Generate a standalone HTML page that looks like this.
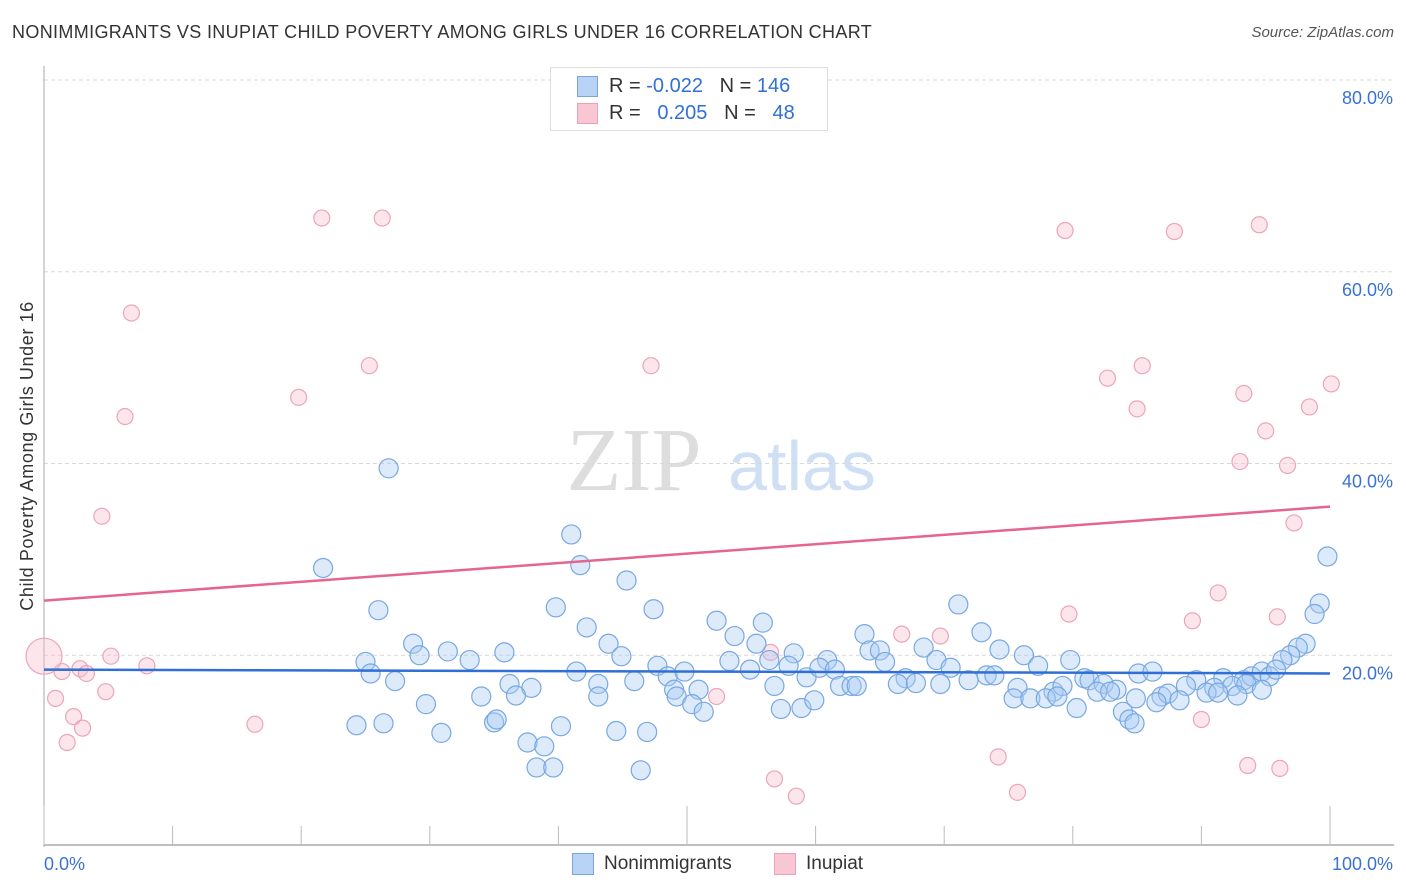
<!DOCTYPE html>
<html><head><meta charset="utf-8">
<style>
body{margin:0;background:#fff;font-family:"Liberation Sans",sans-serif;}
#wrap{position:relative;width:1406px;height:892px;overflow:hidden;}
.t{position:absolute;white-space:nowrap;}
</style></head><body>
<div id="wrap">
<div class="t" style="left:12px;top:22px;font-size:18px;color:#333;letter-spacing:0.35px">NONIMMIGRANTS VS INUPIAT CHILD POVERTY AMONG GIRLS UNDER 16 CORRELATION CHART</div>
<div class="t" style="right:12px;top:24px;font-size:15px;color:#555;font-style:italic">Source: ZipAtlas.com</div>
<svg id="svg" width="1406" height="892" style="position:absolute;left:0;top:0"></svg>
</div>
<script>
const yTickVals=[20,40,60,80];
const yTickLabels=["20.0%","40.0%","60.0%","80.0%"];
const xTickLabels=["0.0%","100.0%"];
const blueX=[26.8,21.7,41.0,41.7,99.8,45.3,39.8,47.4,26.0,71.1,99.2,98.8,42.2,52.3,55.9,28.7,43.9,31.4,53.7,55.4,63.8,72.9,98.1,97.5,96.9,29.2,35.8,44.9,58.3,64.2,68.4,74.3,76.2,25.0,33.1,53.3,56.4,60.9,65.0,65.4,69.4,79.8,96.3,25.4,27.3,41.4,47.7,48.5,49.8,54.9,57.9,59.3,60.3,61.5,67.0,70.5,71.9,73.3,73.9,77.3,80.9,81.3,85.1,86.2,89.6,91.7,93.3,93.9,94.7,95.3,95.8,36.2,37.9,43.1,45.9,49.0,50.9,56.8,61.9,62.8,63.2,66.4,67.8,69.7,75.7,78.5,79.2,82.4,83.4,88.8,91.0,92.4,93.5,34.0,36.7,43.1,49.2,75.4,76.7,77.9,78.8,81.9,82.9,84.9,86.9,87.4,88.3,90.4,91.3,92.8,94.7,86.5,29.7,50.4,51.3,57.3,58.9,59.9,80.3,83.9,84.4,84.8,24.3,26.4,35.0,35.2,40.2,30.9,44.5,46.9,37.6,38.9,38.3,39.6,46.4];
const blueY=[39.5,29.1,32.6,29.4,30.3,27.8,25.0,24.8,24.7,25.3,25.4,24.3,22.9,23.6,23.4,21.2,21.2,20.4,22.0,21.2,22.2,22.4,21.2,20.8,20.0,20.0,20.3,19.9,20.2,20.5,20.8,20.6,20.0,19.3,19.5,19.4,19.5,19.5,20.5,19.3,19.5,19.5,19.5,18.1,17.3,18.3,18.9,17.8,18.3,18.5,18.9,17.7,18.7,18.5,17.6,18.7,17.4,17.9,17.9,18.9,17.6,17.4,18.1,18.3,17.4,17.6,17.4,17.8,18.3,17.8,18.5,17.0,16.6,17.0,17.3,16.4,16.4,16.8,16.8,16.8,16.8,17.0,17.1,17.0,16.6,16.2,16.8,17.0,16.4,16.8,16.6,16.8,17.0,15.7,15.8,15.7,15.7,15.5,15.5,15.5,15.7,16.2,16.2,15.5,15.7,16.0,15.3,16.1,16.1,15.8,16.4,15.1,14.9,14.9,14.1,14.4,14.5,15.3,14.5,14.1,13.3,12.9,12.7,12.9,13.0,13.3,12.6,11.9,12.1,12.0,10.9,10.5,8.3,8.3,8.0];
const pinkX=[21.6,26.3,79.4,87.9,94.5,6.8,25.3,47.2,85.4,82.7,100.1,19.8,93.3,6.3,85.0,98.4,95.0,93.0,96.7,4.5,97.2,91.3,79.7,95.9,89.3,66.7,69.7,5.2,56.5,2.8,3.3,8.0,1.4,4.8,0.9,2.3,52.3,16.4,3.0,1.8,90.0,74.2,56.8,58.5,75.7,93.6,96.1];
const pinkY=[65.6,65.6,64.3,64.2,64.9,55.7,50.2,50.2,50.2,48.9,48.3,46.9,47.3,44.9,45.7,45.9,43.4,40.2,39.8,34.5,33.8,26.5,24.3,24.0,23.6,22.2,22.0,19.9,20.3,18.6,18.1,18.9,18.3,16.2,15.5,13.6,15.7,12.8,12.4,10.9,13.3,9.4,7.1,5.3,5.7,8.5,8.2];
const pinkBig=[0,19.9];
const blueTrend=[18.5,18.1];
const pinkTrend=[25.7,35.5];

const X0=44,X1=1330,Y0=847,Y80=80;
const sx=v=>X0+(X1-X0)*v/100;
const sy=v=>Y0-(Y0-Y80)*v/80;
const svg=document.getElementById('svg');
const NS='http://www.w3.org/2000/svg';
function mk(tag,attrs,parent){const e=document.createElementNS(NS,tag);for(const k in attrs)e.setAttribute(k,attrs[k]);(parent||svg).appendChild(e);return e;}

let wm=mk('text',{x:634,y:490,'font-size':90,'font-family':'Liberation Serif, serif',fill:'#ddd','text-anchor':'middle'});wm.textContent='ZIP';


let wm2=mk('text',{x:802,y:490,'font-size':70,'font-family':'Liberation Sans, sans-serif',fill:'#cfdff4','text-anchor':'middle'});wm2.textContent='atlas';



yTickVals.forEach((v,i)=>{
 const g=mk('line',{x1:X0,x2:1394,y1:sy(v),y2:sy(v),stroke:'#d8d8d8','stroke-dasharray':'4,3'});
 
 
 const t=mk('text',{x:1393,y:sy(v)+24,'font-size':18,fill:'#3a72d0','text-anchor':'end','font-family':'Liberation Sans, sans-serif'});
 t.textContent=yTickLabels[i];
 
 
});
let ya=mk('line',{x1:X0,x2:X0,y1:66,y2:Y0,stroke:'#aaa'});


let xa=mk('line',{x1:X0,x2:1394,y1:845,y2:845,stroke:'#aaa','stroke-width':1.5});


for(let i=0;i<=10;i++){
 const x=sx(i*10);
 const tk=mk('line',{x1:x,x2:x,y1:(i%5==0)?806:826,y2:845,stroke:'#bbb'});
 
 
}
[0,100].forEach((v,i)=>{
 const t=mk('text',{x:i?1393:44,y:870,'font-size':18,fill:'#3a72d0','text-anchor':i?'end':'start','font-family':'Liberation Sans, sans-serif'});
 t.textContent=xTickLabels[i];
 
 
});
let yt=mk('text',{x:0,y:0,'font-size':18,fill:'#333','text-anchor':'middle','font-family':'Liberation Sans, sans-serif','letter-spacing':'0.6',transform:'translate(33,456) rotate(-90)'});
yt.textContent='Child Poverty Among Girls Under 16';



pinkX.forEach((v,i)=>{
 const c=mk('circle',{cx:sx(v),cy:sy(pinkY[i]),r:8,fill:'rgba(248,190,206,0.4)',stroke:'#eba5b9','stroke-width':1.2});
 
 
});
let pb=mk('circle',{cx:sx(pinkBig[0]),cy:sy(pinkBig[1]),r:18,fill:'rgba(248,190,206,0.4)',stroke:'#eba5b9','stroke-width':1.2});


blueX.forEach((v,i)=>{
 const c=mk('circle',{cx:sx(v),cy:sy(blueY[i]),r:9.5,fill:'rgba(170,202,242,0.4)',stroke:'#78a8e2','stroke-width':1.2});
 
 
});
let bt=mk('line',{x1:sx(0),x2:sx(100),y1:sy(blueTrend[0]),y2:sy(blueTrend[1]),stroke:'#2f6fd6','stroke-width':2.5});


let pt=mk('line',{x1:sx(0),x2:sx(100),y1:sy(pinkTrend[0]),y2:sy(pinkTrend[1]),stroke:'#e4658e','stroke-width':2.5});


</script>

<div class="t" style="left:550px;top:67px;width:276px;height:62px;border:1px solid #ddd;background:#fff">
 <div style="position:absolute;left:26px;top:8px;width:19px;height:19px;background:#b9d3f6;border:1px solid #7aa5e0"></div>
 <div style="position:absolute;left:26px;top:35px;width:19px;height:19px;background:#f9c6d4;border:1px solid #eaa2b7"></div>
 <div class="t" style="left:58px;top:7px;font-size:20px;color:#333">R = <span style="color:#2f6fd6">-0.022</span>&nbsp;&nbsp;&nbsp;N = <span style="color:#2f6fd6">146</span></div>
 <div class="t" style="left:58px;top:34px;font-size:20px;color:#333">R = &nbsp;&nbsp;<span style="color:#2f6fd6">0.205</span>&nbsp;&nbsp;&nbsp;N = &nbsp;&nbsp;<span style="color:#2f6fd6">48</span></div>
</div>

<div class="t" style="left:572px;top:853px;width:20px;height:20px;background:#b9d3f6;border:1px solid #7aa5e0"></div>
<div class="t" style="left:604px;top:853px;font-size:19px;color:#333">Nonimmigrants</div>
<div class="t" style="left:774px;top:853px;width:20px;height:20px;background:#f9c6d4;border:1px solid #eaa2b7"></div>
<div class="t" style="left:806px;top:853px;font-size:19px;color:#333">Inupiat</div>
</body></html>
